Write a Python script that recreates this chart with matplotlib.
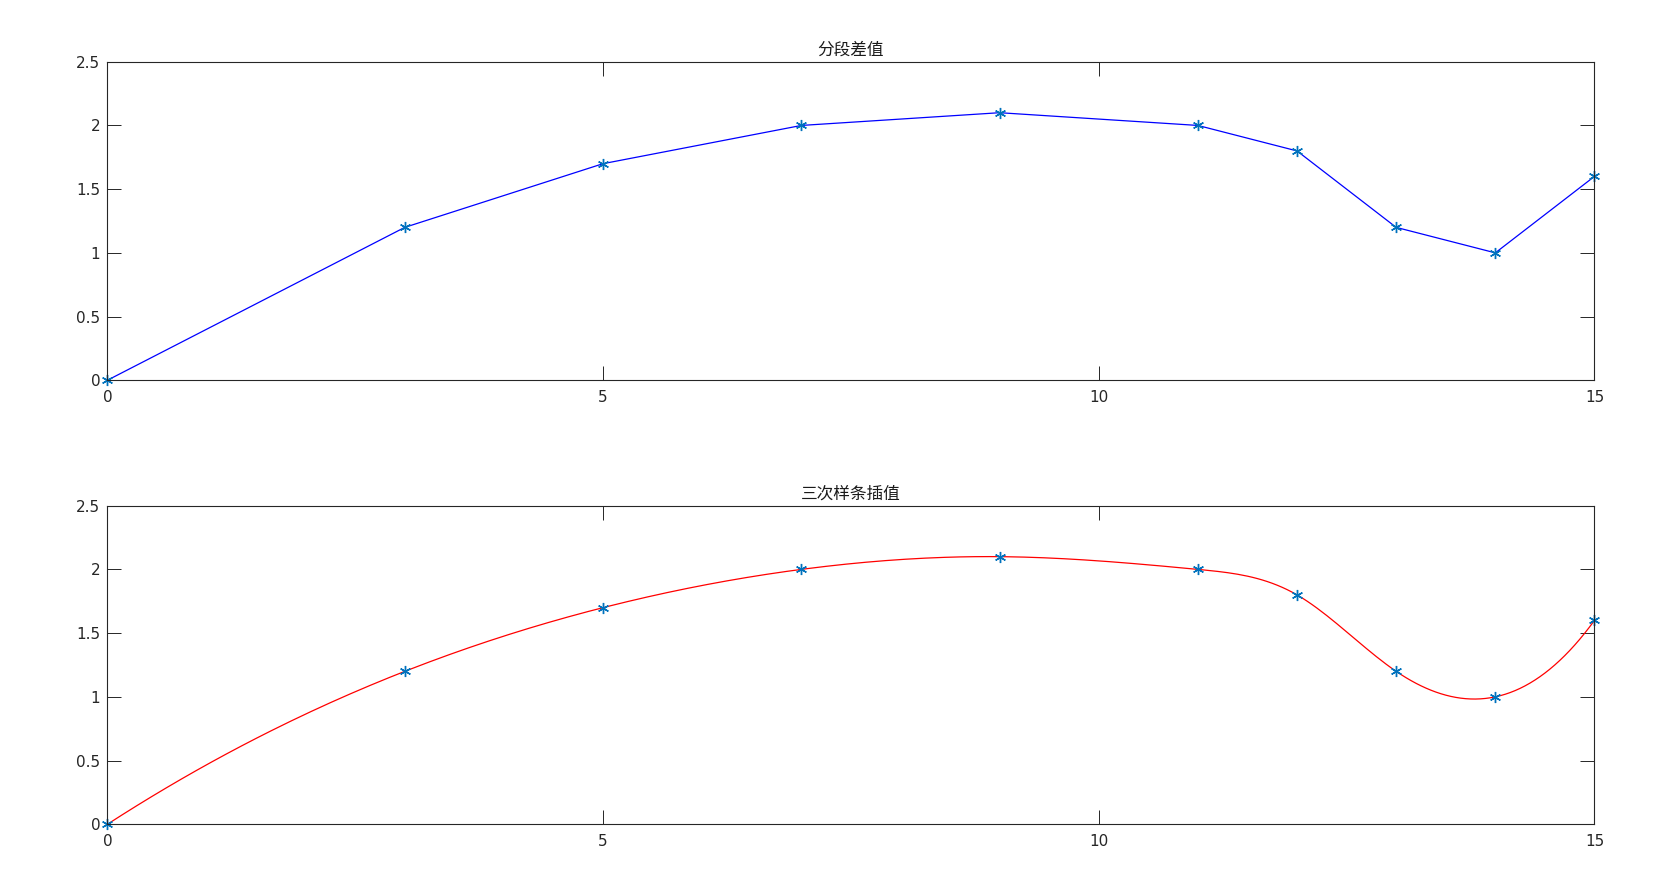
import matplotlib
matplotlib.use('Agg')
import matplotlib.pyplot as plt
import numpy as np

plt.rcParams['font.family'] = ['DejaVu Sans', 'Noto Sans CJK SC']

# data points
x = [0, 3, 5, 7, 9, 11, 12, 13, 14, 15]
y = [0, 1.2, 1.7, 2.0, 2.1, 2.0, 1.8, 1.2, 1.0, 1.6]
title_top = '分段差值'
title_bot = '三次样条插值'
xticks = [0, 5, 10, 15]
yticks = [0, 0.5, 1, 1.5, 2, 2.5]


def spline_notaknot(xs, ys, xx):
    # cubic spline, not-a-knot ends (same as matlab spline)
    xs = np.asarray(xs, float)
    ys = np.asarray(ys, float)
    n = len(xs)
    h = np.diff(xs)
    A = np.zeros((n, n))
    b = np.zeros(n)
    A[0, 0] = h[1]
    A[0, 1] = -(h[0] + h[1])
    A[0, 2] = h[0]
    for i in range(1, n - 1):
        A[i, i - 1] = h[i - 1]
        A[i, i] = 2 * (h[i - 1] + h[i])
        A[i, i + 1] = h[i]
        b[i] = 6 * ((ys[i + 1] - ys[i]) / h[i] - (ys[i] - ys[i - 1]) / h[i - 1])
    A[n - 1, n - 3] = h[n - 2]
    A[n - 1, n - 2] = -(h[n - 3] + h[n - 2])
    A[n - 1, n - 1] = h[n - 3]
    M = np.linalg.solve(A, b)
    idx = np.clip(np.searchsorted(xs, xx) - 1, 0, n - 2)
    x0 = xs[idx]
    x1 = xs[idx + 1]
    hh = h[idx]
    out = (M[idx] * (x1 - xx) ** 3 / (6 * hh) + M[idx + 1] * (xx - x0) ** 3 / (6 * hh)
           + (ys[idx] / hh - M[idx] * hh / 6) * (x1 - xx)
           + (ys[idx + 1] / hh - M[idx + 1] * hh / 6) * (xx - x0))
    return out


xx = np.linspace(x[0], x[-1], 301)
yy = spline_notaknot(x, y, xx)

fig = plt.figure(figsize=(16.59, 8.72), dpi=100)
ax1 = fig.add_axes([0.0647, 0.5639, 0.9611 - 0.0647, 0.9292 - 0.5639])
ax2 = fig.add_axes([0.0647, 0.0547, 0.9611 - 0.0647, 0.4201 - 0.0547])

star = (6, 2, 0)  # asterisk like matlab '*'


def style(ax, title):
    ax.set_xlim(0, 15)
    ax.set_ylim(0, 2.5)
    ax.set_xticks(xticks)
    ax.set_xticklabels([str(t) for t in xticks])
    ax.set_yticks(yticks)
    ax.set_yticklabels(['0', '0.5', '1', '1.5', '2', '2.5'])
    ax.tick_params(direction='in', length=10, width=0.7, top=True, right=True,
                   labelsize=11, colors='#262626')
    ax.tick_params(axis='x', pad=7)
    ax.tick_params(axis='y', pad=5)
    for s in ax.spines.values():
        s.set_linewidth(0.8)
        s.set_color('#262626')
    ax.set_title(title, fontsize=12, color='#1a1a1a', pad=5,
                 family=['Noto Sans CJK SC', 'DejaVu Sans'])


ax1.plot(x, y, color='blue', lw=0.9)
ax1.plot(x, y, ls='none', marker=star, color='#0072BD', ms=8, mew=1.0, clip_on=False)
style(ax1, title_top)

ax2.plot(xx, yy, color='red', lw=0.9)
ax2.plot(x, y, ls='none', marker=star, color='#0072BD', ms=8, mew=1.0, clip_on=False)
style(ax2, title_bot)

fig.savefig('out.png', dpi=100)
